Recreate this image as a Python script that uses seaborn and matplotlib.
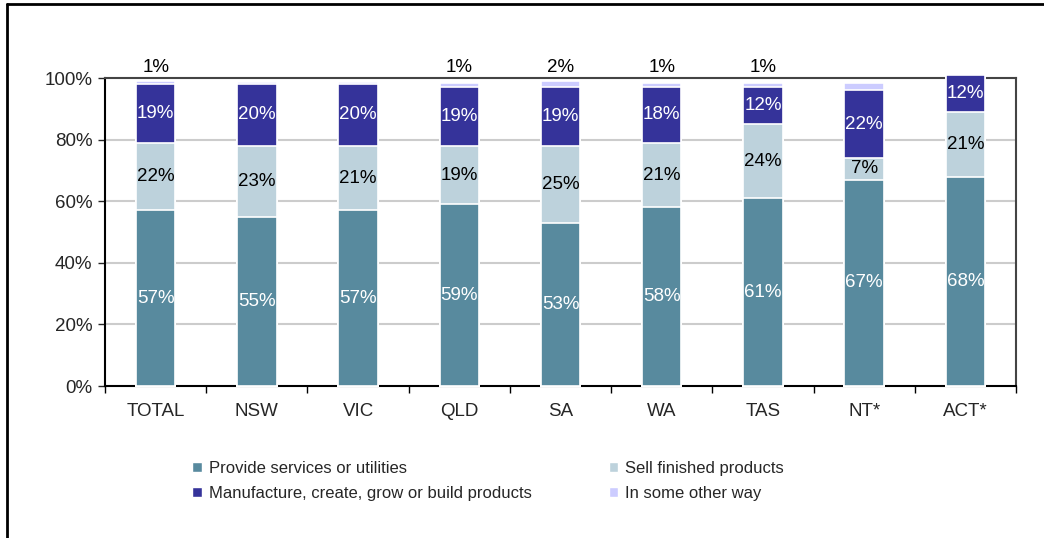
import numpy as np
import pandas as pd
import seaborn as sns
import matplotlib.pyplot as plt
from matplotlib.lines import Line2D
from matplotlib.patches import Patch

# data (percent of businesses)
cats = ['TOTAL', 'NSW', 'VIC', 'QLD', 'SA', 'WA', 'TAS', 'NT*', 'ACT*']
provide = [57, 55, 57, 59, 53, 58, 61, 67, 68]
sell = [22, 23, 21, 19, 25, 21, 24, 7, 21]
manuf = [19, 20, 20, 19, 19, 18, 12, 22, 12]
other = [1, 0.8, 0.8, 1.5, 2, 1.5, 1.5, 2.5, 0]
other_labels = ['1%', '', '', '1%', '2%', '1%', '1%', '', '']

series_names = ['Provide services or utilities', 'Sell finished products',
                'Manufacture, create, grow or build products', 'In some other way']
colors = ['#588A9E', '#BDD2DC', '#35339A', '#CCCCFF']

sns.set_style('white')
plt.rcParams['font.family'] = ['Liberation Sans', 'DejaVu Sans']

df = pd.DataFrame({'cat': cats, 'provide': provide, 'sell': sell,
                   'manuf': manuf, 'other': other})
df['c1'] = df['provide']
df['c2'] = df['c1'] + df['sell']
df['c3'] = df['c2'] + df['manuf']
df['c4'] = df['c3'] + df['other']

fig = plt.figure(figsize=(10.44, 5.38), dpi=100)
ax = fig.add_axes([0.1006, 0.2825, 0.8726, 0.5725])

# stacked bars: draw cumulative totals from the top layer down
for col, colr in zip(['c4', 'c3', 'c2', 'c1'], colors[::-1]):
    sns.barplot(data=df, x='cat', y=col, color=colr, width=0.39,
                edgecolor='white', linewidth=1.2, saturation=1, ax=ax, zorder=3)
for p in ax.patches:
    p.set_clip_on(False)

fs = 13.5
# labels
for i in range(len(cats)):
    ax.text(i, df.c1[i] / 2, f'{provide[i]}%', ha='center', va='center',
            color='white', fontsize=fs, zorder=5)
    ax.text(i, df.c1[i] + sell[i] / 2, f'{sell[i]}%', ha='center', va='center',
            color='black', fontsize=fs, zorder=5)
    ax.text(i, df.c2[i] + manuf[i] / 2, f'{manuf[i]}%', ha='center', va='center',
            color='white', fontsize=fs, zorder=5)
    if other_labels[i]:
        ax.text(i, 103.3, other_labels[i], ha='center', va='center',
                color='black', fontsize=fs, zorder=5, clip_on=False)

ax.set_ylim(0, 100)
ax.set_xlim(-0.5, len(cats) - 0.5)
ax.set_yticks(np.arange(0, 101, 20))
ax.set_yticklabels([f'{v}%' for v in range(0, 101, 20)], fontsize=fs)
ax.set_xlabel('')
ax.set_ylabel('')
for v in [20, 40, 60, 80]:
    ax.axhline(v, color='#CCCCCC', lw=1.5, zorder=1)

# x ticks at category boundaries, labels centred
ax.set_xticks(np.arange(-0.5, len(cats), 1))
ax.set_xticklabels([])
ax.set_xticks(np.arange(len(cats)), minor=True)
ax.set_xticklabels(cats, minor=True, fontsize=fs)
ax.tick_params(axis='x', which='major', direction='out', length=5, width=1, colors='black', bottom=True)
ax.tick_params(axis='x', which='minor', length=0, pad=12)
ax.tick_params(axis='y', direction='out', length=5, width=1, left=True, pad=4)

for s in ['left', 'bottom']:
    ax.spines[s].set_color('black')
    ax.spines[s].set_linewidth(1.5)
for s in ['top', 'right']:
    ax.spines[s].set_color('#444444')
    ax.spines[s].set_linewidth(1.5)
    ax.spines[s].set_visible(True)

handles = [Patch(facecolor=colors[0]), Patch(facecolor=colors[2]),
           Patch(facecolor=colors[1]), Patch(facecolor=colors[3])]
labels = [series_names[0], series_names[2], series_names[1], series_names[3]]
fig.legend(handles, labels, ncol=2, loc='upper left', bbox_to_anchor=(0.178, 0.156),
           frameon=False, fontsize=12, handlelength=0.55, handleheight=0.55,
           handletextpad=0.45, columnspacing=4.6, labelspacing=0.62, borderaxespad=0)

# outer frame lines
fig.add_artist(Line2D([0.0067, 1.0], [0.9926, 0.9926], color='black', lw=2))
fig.add_artist(Line2D([0.0067, 0.0067], [0.0, 0.9926], color='black', lw=2))

fig.savefig('out.png', dpi=100)
